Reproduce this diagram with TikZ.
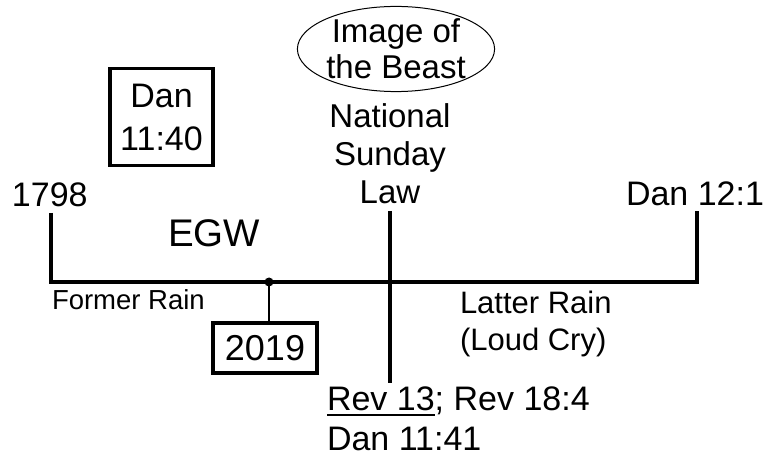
\documentclass[tikz,border=0pt]{standalone}
\usepackage{fontspec}
\setmainfont{Liberation Sans}
\usetikzlibrary{shapes.geometric}
\begin{document}
\begin{tikzpicture}[x=1pt,y=-1pt,
  lbl/.style={inner sep=0pt, outer sep=0pt, font=\fontsize{34}{39}\selectfont},
  boxed/.style={draw, line width=3.5pt, inner sep=0pt, align=center, font=\fontsize{34}{43}\selectfont},
  thick line/.style={line width=4pt},
  thin line/.style={line width=1.5pt}]
\useasboundingbox (0,0) rectangle (769,457);

% timeline frame
\coordinate (Ltop) at (51,213);
\coordinate (Lbot) at (51,282);
\coordinate (Rbot) at (697,282);
\coordinate (Rtop) at (697,211);
\coordinate (Mtop) at (390,211);
\coordinate (Mbot) at (390,383);
\coordinate (dot) at (269,282);
\draw[thick line, line join=miter] (Ltop) -- (Lbot) -- (Rbot) -- (Rtop);
\draw[thick line] (Mtop) -- (Mbot);
\fill (dot) circle (4.5);

% boxes
\node[boxed, minimum width=103pt, minimum height=97pt] (dan1140) at (161.5,117) {Dan\\11:40};
\node[boxed, minimum width=104pt, minimum height=50pt, font=\fontsize{36}{40}\selectfont] (y2019) at (265,348) {2019};
\draw[thin line] (dot) -- (dot |- y2019.north);

% ellipse
\node[draw, ellipse, line width=1pt, inner sep=0pt, minimum width=186pt, minimum height=84pt,
      align=center, font=\fontsize{33}{36}\selectfont] (image) at (396,49) {Image of\\the Beast};

% labels
\node[lbl, anchor=base west] (y1798) at (12,207) {1798};
\node[lbl, anchor=base west] (dan121) at (626,206) {Dan 12:1};
\node[lbl, anchor=base west, font=\fontsize{38.5}{40}\selectfont] (egw) at (168,247) {EGW};
\node[lbl, anchor=base west, font=\fontsize{27.5}{30}\selectfont] (former) at (52,310) {Former Rain};

\node[lbl, anchor=base, font=\fontsize{33}{36}\selectfont] (nat) at (390,128) {National};
\node[lbl, anchor=base, font=\fontsize{33}{36}\selectfont] (sun) at (390,166) {Sunday};
\node[lbl, anchor=base, font=\fontsize{33}{36}\selectfont] (law) at (390,204) {Law};

\node[lbl, anchor=base west, font=\fontsize{31}{34}\selectfont] (latter) at (460,313) {Latter Rain};
\node[lbl, anchor=base west, font=\fontsize{31}{34}\selectfont] (loud) at (460,351) {(Loud Cry)};

\node[lbl, anchor=base west] (rev13) at (327,410) {Rev 13};
\node[lbl, anchor=base west] (rev184) at (rev13.base east) {; Rev 18:4};
\draw[line width=2pt] ([yshift=-5pt]rev13.base west) -- ([yshift=-5pt]rev13.base east);
\node[lbl, anchor=base west] (dan1141) at (327,450) {Dan 11:41};
\end{tikzpicture}
\end{document}
